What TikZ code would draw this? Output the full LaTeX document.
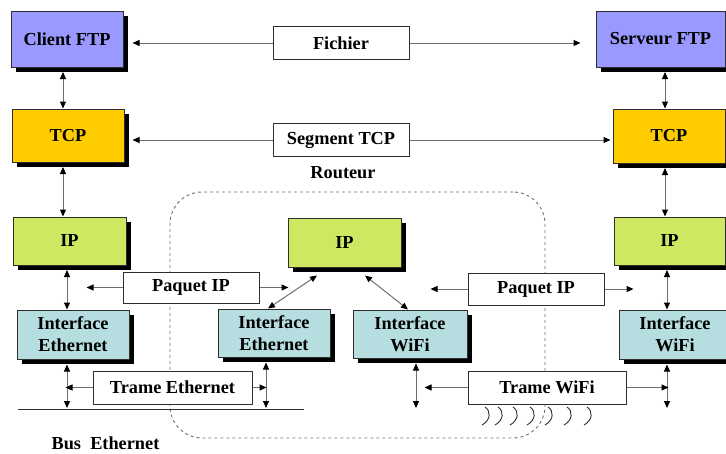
\documentclass[tikz,border=0pt]{standalone}
\usepackage{fontspec}
\setmainfont{Liberation Serif}
\usepackage{tikz}
\usetikzlibrary{arrows.meta,shadows,calc}
\definecolor{appblue}{HTML}{9999FF}
\definecolor{tcpyellow}{HTML}{FFCC00}
\definecolor{iplime}{HTML}{CEE862}
\definecolor{linkteal}{HTML}{B6DEE0}
\definecolor{wiregrey}{HTML}{6E6E6E}
\definecolor{edgegrey}{HTML}{2E2E2E}
\definecolor{routergrey}{HTML}{707070}

\begin{document}
\begin{tikzpicture}[x=1pt, y=-1pt,
  font=\bfseries\fontsize{18.3}{22}\selectfont,
  layer/.style={draw=edgegrey, line width=1pt, align=center, inner sep=0pt,
                general shadow={fill=black, shadow xshift=4.5pt, shadow yshift=-4.5pt}},
  tag/.style={draw=edgegrey, fill=white, line width=1pt, inner sep=0pt,
              minimum width=136pt, minimum height=33pt},
  tip/.tip={Triangle[length=7pt, width=6pt, color=black]},
  arrow/.style={-tip, draw=wiregrey, line width=1pt},
  both/.style={tip-tip, draw=wiregrey, line width=1pt},
]
\useasboundingbox (0,0) rectangle (726,453);

\node[draw=routergrey, dash pattern=on 3pt off 3pt, line width=0.9pt,
      rounded corners=32pt, minimum width=375pt, minimum height=246pt] (router) at (357.5,315) {};
\node (routeur) at (343,173) {Routeur};

\node[layer, fill=appblue, minimum width=112pt, minimum height=56pt] (cftp) at (67,39) {Client FTP};
\node[layer, fill=appblue, minimum width=129pt, minimum height=56pt] (sftp) at (660.5,39) {Serveur FTP};
\node[layer, fill=tcpyellow, minimum width=112pt, minimum height=53pt] (tcpL) at (68,135.5) {TCP};
\node[layer, fill=tcpyellow, minimum width=112pt, minimum height=54pt] (tcpR) at (669,136) {TCP};
\node[layer, fill=iplime, minimum width=113pt, minimum height=48pt] (ipL) at (69.5,241) {IP};
\node[layer, fill=iplime, minimum width=113pt, minimum height=49pt] (ipM) at (344.5,242.5) {IP};
\node[layer, fill=iplime, minimum width=111pt, minimum height=48pt] (ipR) at (669.5,241) {IP};
\node[layer, fill=linkteal, minimum width=112pt, minimum height=49pt] (ifL) at (73,334.5) {Interface\\Ethernet};
\node[layer, fill=linkteal, minimum width=112pt, minimum height=48pt] (ifE) at (274,333) {Interface\\Ethernet};
\node[layer, fill=linkteal, minimum width=114pt, minimum height=48pt] (ifW) at (410,334) {Interface\\WiFi};
\node[layer, fill=linkteal, minimum width=112pt, minimum height=49pt] (ifR) at (675,334.5) {Interface\\WiFi};

\node[tag] (fichier) at (341,43) {Fichier};
\node[tag] (segtcp) at (341,140) {Segment TCP};
\node[tag, minimum height=31pt] (paqL) at (191,287.5) {Paquet IP};
\node[tag, minimum height=32pt] (paqR) at (536,289) {Paquet IP};
\node[tag, minimum width=159pt] (trameE) at (172.5,387.5) {Trame Ethernet};
\node[tag, minimum width=158pt] (trameW) at (547,387.5) {Trame WiFi};

\coordinate (busW) at (18,409);
\coordinate (busE) at (304,409);
\draw[line width=1pt, draw=edgegrey] (busW) -- (busE);
\node (bus) at (105.5,443) {Bus\ \ Ethernet};

\draw[arrow, shorten >=9pt] (fichier.west) -- (fichier.west -| cftp.east);
\draw[arrow, shorten >=15pt] (fichier.east) -- (fichier.east -| sftp.west);
\draw[arrow, shorten >=8pt] (segtcp.west) -- (segtcp.west -| tcpL.east);
\draw[arrow, shorten >=2pt] (segtcp.east) -- (segtcp.east -| tcpR.west);

\draw[both, shorten <=4.5pt] ([xshift=-4pt]cftp.south) -- ([xshift=-4pt]cftp.south |- tcpL.north);
\draw[both, shorten <=4.5pt] ([xshift=4.5pt]sftp.south) -- ([xshift=4.5pt]sftp.south |- tcpR.north);
\draw[both, shorten <=4.5pt] ([xshift=-5pt]tcpL.south) -- ([xshift=-5pt]tcpL.south |- ipL.north);
\draw[both, shorten <=4.5pt] ([xshift=-4pt]tcpR.south) -- ([xshift=-4pt]tcpR.south |- ipR.north);
\draw[both, shorten <=4.5pt] ([xshift=-2.5pt]ipL.south) -- ([xshift=-2.5pt]ipL.south |- ifL.north);
\draw[both, shorten <=4.5pt] ([xshift=-2.5pt]ipR.south) -- ([xshift=-2.5pt]ipR.south |- ifR.north);

\draw[arrow] (paqL.west) -- ++(-36,0);
\draw[arrow] (paqL.east) -- ++(29,0);
\draw[arrow] (paqR.west) -- ++(-37,0);
\draw[arrow] (paqR.east) -- ++(29,0);

\draw[both] ([xshift=-6pt]ifE.north) -- ([xshift=-27.5pt, yshift=-8pt]ipM.south);
\draw[both] ([xshift=20.5pt, yshift=-8pt]ipM.south) -- ([xshift=-2pt]ifW.north);

\draw[both, shorten <=5pt, shorten >=1pt] ([xshift=-6pt]ifL.south) -- ([xshift=-6pt]ifL.south |- busW);
\draw[both, shorten <=5pt, shorten >=1pt] ([xshift=-8pt]ifE.south) -- ([xshift=-8pt]ifE.south |- busW);
\draw[both, shorten <=5pt, shorten >=1pt] ([xshift=6pt]ifW.south) -- ([xshift=6pt]ifW.south |- busW);
\draw[both, shorten <=5pt, shorten >=1pt] ([xshift=-8pt]ifR.south) -- ([xshift=-8pt]ifR.south |- busW);

\draw[arrow] (trameE.west) -- ++(-27,0);
\draw[arrow] (trameE.east) -- ++(14,0);
\draw[arrow] (trameW.west) -- ++(-43,0);
\draw[arrow] (trameW.east) -- ++(42,0);

\foreach \w in {485,498,513,530,548,567,587}
  \draw[line width=0.9pt, draw=edgegrey] (\w,407) .. controls (\w+6,411) and (\w+6,420) .. (\w-3,425);
\end{tikzpicture}
\end{document}
